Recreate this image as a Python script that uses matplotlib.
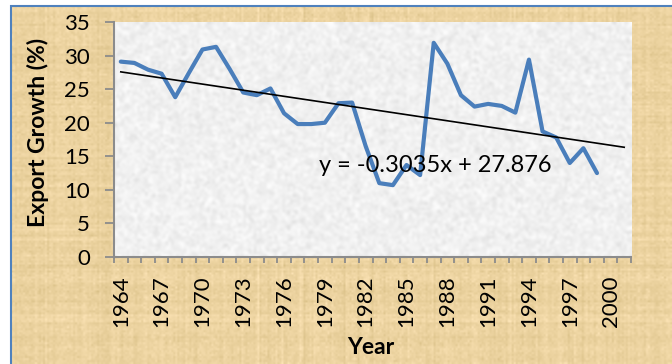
import numpy as np
import matplotlib
matplotlib.use("Agg")
import matplotlib.pyplot as plt
from matplotlib.patches import Rectangle

plt.rcParams['font.family'] = ['Lato', 'DejaVu Sans']

# Export growth by year (%)
years = list(range(1964, 2000))
export_growth = [29.1, 28.9, 27.9, 27.3, 23.8, 27.4, 30.9, 31.3, 28.0, 24.5,
                 24.1, 25.1, 21.4, 19.8, 19.8, 20.0, 22.9, 23.0, 16.5, 11.0,
                 10.7, 13.7, 12.2, 31.9, 28.8, 24.1, 22.4, 22.8, 22.5, 21.5,
                 29.4, 18.7, 17.8, 14.0, 16.2, 12.5]
# Category axis runs two periods past the data (linear trend forecast)
axis_years = list(range(1964, 2002))
tick_years = list(range(1964, 2001, 3))
y_ticks = [0, 5, 10, 15, 20, 25, 30, 35]

# Linear trendline, x counted 1..N over the categories
trend_slope = -0.3035
trend_intercept = 27.876
trend_label = "y = -0.3035x + 27.876"

W, H = 672, 364
fig = plt.figure(figsize=(W / 100, H / 100), dpi=100, facecolor='white')

# Papyrus-style chart background
rng = np.random.default_rng(11)
bg_ax = fig.add_axes([11 / W, 0, 1 - 11 / W, (H - 6) / H])
bg_ax.set_axis_off()
h, w = 180, 330
base = np.array([236, 211, 160], dtype=float) / 255
rows = rng.normal(0, 0.012, (h, 1))
cols = rng.normal(0, 0.012, (1, w))
speck = rng.normal(0, 0.015, (h, w))
shade = rows + cols + speck
tex = np.clip(base[None, None, :] + shade[:, :, None] * np.array([1.0, 1.0, 1.3]), 0, 1)
bg_ax.imshow(tex, aspect='auto', interpolation='bilinear', extent=[0, 1, 0, 1])
bg_ax.set_xlim(0, 1)
bg_ax.set_ylim(0, 1)
fig.patches.append(Rectangle((11 / W, -0.01), 1.2, (H - 6) / H + 0.01,
                             transform=fig.transFigure, fill=False,
                             edgecolor='#4F81BD', linewidth=1.5, zorder=5))

# Plot area
left, right, top, bottom = 114, 631, 22, 257
ax = fig.add_axes([left / W, (H - bottom) / H, (right - left) / W, (bottom - top) / H])
ax.set_facecolor('none')

n_cat = len(axis_years)
ax.set_xlim(-0.5, n_cat - 0.5)
ax.set_ylim(0, 35)

# Speckled grey-white fill of the plot area
ph, pw = 90, 200
g = 0.945 + rng.normal(0, 0.03, (ph, pw))
g = np.clip(g, 0.80, 1.0)
ax.imshow(np.dstack([g, g, g]), aspect='auto', interpolation='bicubic',
          extent=[-0.5, n_cat - 0.5, 0, 35], zorder=0)

x = np.arange(len(years))
ax.plot(x, export_growth, color='#4A7EBB', linewidth=3.0,
        solid_joinstyle='round', solid_capstyle='round', zorder=3)

xt = np.arange(1, n_cat + 1)
ax.plot(xt - 1, trend_slope * xt + trend_intercept, color='black',
        linewidth=1.2, zorder=4)

ax.text(14.6, 13.6, trend_label, fontsize=17, color='black',
        ha='left', va='center', zorder=5)

# Axes styling
for side in ('top', 'right'):
    ax.spines[side].set_visible(False)
for side in ('left', 'bottom'):
    ax.spines[side].set_color('#8C8C8C')
    ax.spines[side].set_linewidth(1.5)

ax.set_yticks(y_ticks)
ax.set_yticklabels([str(v) for v in y_ticks])
ax.tick_params(axis='y', length=6.3, width=1.3, color='#8C8C8C',
               labelsize=16, pad=11)

ax.set_xticks(np.arange(-0.5, n_cat, 1.0))
ax.set_xticklabels([])
ax.tick_params(axis='x', which='major', length=4.5, width=1.3, color='#8C8C8C')
ax.set_xticks([axis_years.index(yv) for yv in tick_years], minor=True)
ax.set_xticklabels([str(yv) for yv in tick_years], minor=True, rotation=90)
ax.tick_params(axis='x', which='minor', length=0, labelsize=16, pad=13)

fig.text(38 / W, 1 - 132 / H, 'Export Growth (%)', rotation=90, fontsize=16.5,
         fontweight='bold', ha='center', va='center')
fig.text(371 / W, 1 - 348 / H, 'Year', fontsize=16.5, fontweight='bold',
         ha='center', va='center')

fig.savefig('out.png', dpi=100, facecolor='white')
